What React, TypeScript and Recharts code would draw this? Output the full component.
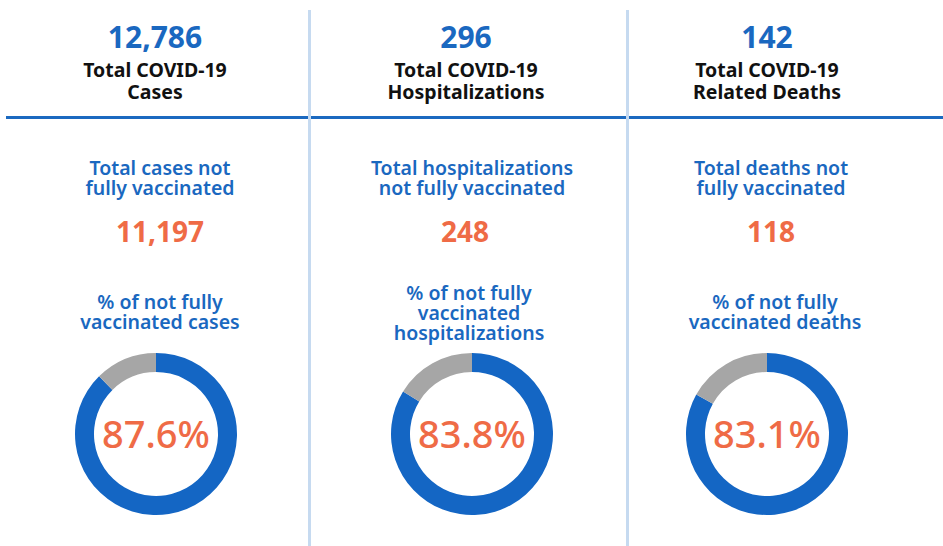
import React from "react";
import { PieChart, Pie, Cell } from "recharts";

const totals = ["12,786", "296", "142"];
const headerLabels = [
  ["Total COVID-19", "Cases"],
  ["Total COVID-19", "Hospitalizations"],
  ["Total COVID-19", "Related Deaths"],
];
const notVaxLabels = [
  ["Total cases not", "fully vaccinated"],
  ["Total hospitalizations", "not fully vaccinated"],
  ["Total deaths not", "fully vaccinated"],
];
const notVaxCounts = ["11,197", "248", "118"];
const pctLabels = [
  ["% of not fully", "vaccinated cases"],
  ["% of not fully", "vaccinated", "hospitalizations"],
  ["% of not fully", "vaccinated deaths"],
];
const pctNotVax = [87.6, 83.8, 83.1];
const pctVax = [12.4, 16.2, 16.9];

const BLUE = "#1a68c0";
const DONUT_BLUE = "#1466c4";
const GRAY = "#a6a6a6";
const ORANGE = "#ef6b46";
const FONT = "'Noto Sans', sans-serif";

const headerX = [155, 466, 767];
const bodyX = [160, 472, 771];
const donutX = [156, 472, 767];
const donutY = 434;
const pctTop = [292, 283, 292];

function Lines(props: {
  cx: number;
  top: number;
  lines: string[];
  size: number;
  lh: number;
  color: string;
  weight?: number;
}) {
  return (
    <div
      style={{
        position: "absolute",
        left: props.cx - 160,
        width: 320,
        top: props.top,
        textAlign: "center",
        fontFamily: FONT,
        fontSize: props.size,
        lineHeight: props.lh + "px",
        color: props.color,
        fontWeight: props.weight ?? 700,
        whiteSpace: "nowrap",
      }}
    >
      {props.lines.map((l, i) => (
        <div key={i}>{l}</div>
      ))}
    </div>
  );
}

export default function App() {
  return (
    <div
      style={{
        position: "absolute",
        left: 0,
        top: 0,
        width: 943,
        height: 546,
        background: "#ffffff",
        overflow: "hidden",
      }}
    >
      <div style={{ position: "absolute", left: 0, top: 0 }}>
        <PieChart width={943} height={546} margin={{ top: 0, right: 0, bottom: 0, left: 0 }}>
          {pctNotVax.map((p, i) => (
            <Pie
              key={i}
              data={[
                { name: "Not fully vaccinated", value: p },
                { name: "Fully vaccinated", value: pctVax[i] },
              ]}
              dataKey="value"
              cx={donutX[i]}
              cy={donutY}
              innerRadius={62}
              outerRadius={81}
              startAngle={90}
              endAngle={-270}
              stroke="none"
              isAnimationActive={false}
            >
              <Cell fill={DONUT_BLUE} />
              <Cell fill={GRAY} />
            </Pie>
          ))}
        </PieChart>
      </div>

      {/* dividers */}
      <div style={{ position: "absolute", left: 6, top: 116, width: 937, height: 3, background: "#1b69c0" }} />
      <div style={{ position: "absolute", left: 308, top: 10, width: 3, height: 536, background: "#c6daf0" }} />
      <div style={{ position: "absolute", left: 626, top: 10, width: 3, height: 536, background: "#c6daf0" }} />

      {totals.map((t, i) => (
        <React.Fragment key={i}>
          <Lines cx={headerX[i]} top={19} lines={[t]} size={30} lh={36} color={BLUE} />
          <Lines cx={headerX[i]} top={59} lines={headerLabels[i]} size={19.5} lh={21.5} color="#111111" />
          <Lines cx={bodyX[i]} top={158} lines={notVaxLabels[i]} size={19.5} lh={20} color={BLUE} weight={600} />
          <Lines cx={bodyX[i] - (i === 1 ? 7 : 0)} top={213} lines={[notVaxCounts[i]]} size={28} lh={36} color={ORANGE} />
          <Lines cx={bodyX[i] + (i === 2 ? 4 : i === 1 ? -3 : 0)} top={pctTop[i]} lines={pctLabels[i]} size={19.5} lh={20} color={BLUE} weight={600} />
          <Lines
            cx={donutX[i]}
            top={donutY - 25}
            lines={[pctNotVax[i].toFixed(1) + "%"]}
            size={38}
            lh={48}
            color={ORANGE}
            weight={500}
          />
        </React.Fragment>
      ))}
    </div>
  );
}
